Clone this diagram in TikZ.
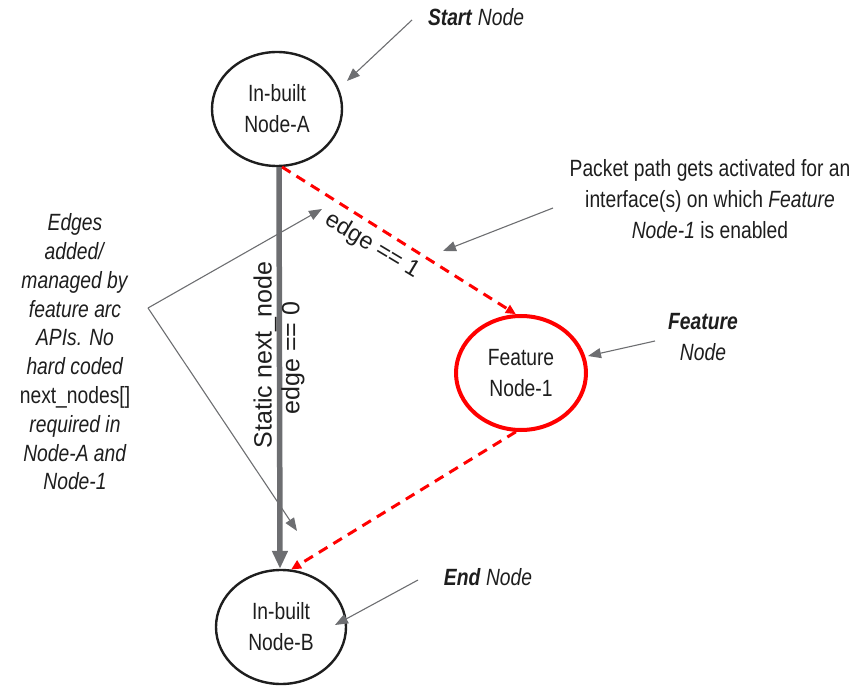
\documentclass[tikz,border=0pt]{standalone}
\usepackage{fontspec}
\setmainfont{Liberation Sans}[FakeStretch=0.82]
\newfontfamily\wideface{Liberation Sans}
\usetikzlibrary{arrows.meta,shapes.geometric}
\definecolor{linegray}{HTML}{6D6E71}
\definecolor{inkc}{HTML}{1E1E1E}
\definecolor{featred}{HTML}{FF0000}
\tikzset{
  txt/.style={text=inkc, font=\fontsize{23.5}{31}\selectfont, align=center, inner sep=0pt},
  edgelabel/.style={txt, font=\wideface\fontsize{25}{30}\selectfont},
  graphnode/.style={ellipse, draw=inkc, line width=2.4pt, minimum width=130pt, minimum height=114pt, inner sep=0pt, txt},
  featnode/.style={graphnode, draw=featred, line width=4pt},
  pointer/.style={draw=linegray, line width=1.1pt, -{Triangle[length=13pt,width=10pt]}},
  staticedge/.style={draw=linegray, line width=5.5pt, -{Triangle[length=18pt,width=15pt]}},
  featedge/.style={draw=featred, line width=3pt, dash pattern=on 10pt off 7pt, -{Triangle[length=10pt,width=9pt]}},
}
\begin{document}
\begin{tikzpicture}[x=1pt,y=-1pt]
\useasboundingbox (0,0) rectangle (868,687);

% graph nodes
\node[graphnode] (A) at (277,109) {In-built\\Node-A};
\node[graphnode] (B) at (281,627) {In-built\\Node-B};
\node[featnode]  (F) at (521,373) {Feature\\Node-1};

% edges
\draw[staticedge] (A.south -| 279,0) -- (B.north -| 280,0);
\draw[featedge] (A.-85) -- (F.95);
\draw[featedge] (F.265) -- (B.80);

% edge labels
\node[edgelabel, font=\wideface\fontsize{23.5}{30}\selectfont, rotate=-31] (e1) at (372,246) {edge == 1};
\node[edgelabel, rotate=90] (sn) at (265,355) {Static next\_node};
\node[edgelabel, rotate=90] (e0) at (293,358) {edge == 0};

% annotations
\node[txt] (start) at (476,17) {\textbf{\textit{Start}} \textit{Node}};
\node[txt] (endl) at (488,577) {\textbf{\textit{End}} \textit{Node}};
\node[txt] (featl) at (703,337) {\textbf{\textit{Feature}}\\\textit{Node}};
\node[txt] (pkt) at (710,199) {Packet path gets activated for an\\interface(s) on which \textit{Feature}\\\textit{Node-1} is enabled};
\node[txt, font=\fontsize{23.5}{28.8}\selectfont] (edges) at (75,352)
  {\textit{Edges}\\\textit{added/}\\\textit{managed by}\\\textit{feature arc}\\\textit{APIs. No}\\\textit{hard coded}\\next\_nodes[]\\\textit{required in}\\\textit{Node-A and}\\\textit{Node-1}};

% pointer lines
\coordinate (sp) at (412,20);
\coordinate (st) at (347,81);
\coordinate (pp) at (553,208);
\coordinate (pt) at (443,251);
\coordinate (fp) at (655,341);
\coordinate (ft) at (588,356);
\coordinate (ep) at (418,580);
\coordinate (et) at (335,625);
\coordinate (lp) at (148,308);
\coordinate (lt1) at (322,209);
\coordinate (lt2) at (297,531);
\draw[pointer] (sp) -- (st);
\draw[pointer] (pp) -- (pt);
\draw[pointer] (fp) -- (ft);
\draw[pointer] (ep) -- (et);
\draw[pointer] (lp) -- (lt1);
\draw[pointer] (lp) -- (lt2);
\end{tikzpicture}
\end{document}
